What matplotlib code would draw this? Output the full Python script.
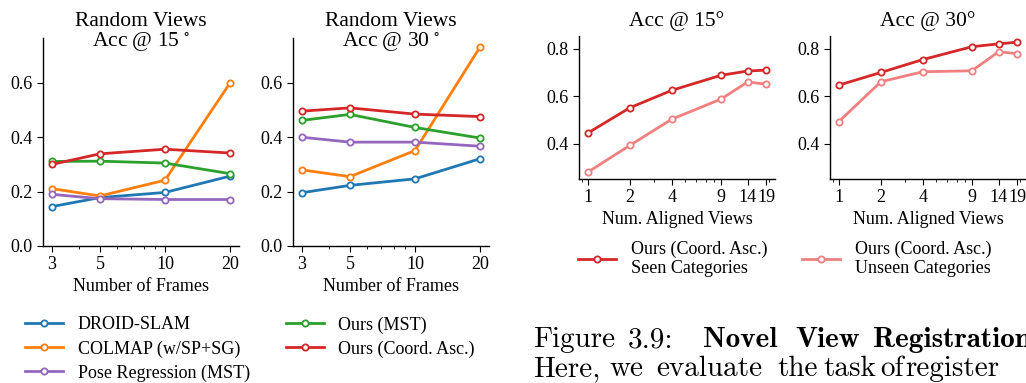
import matplotlib
matplotlib.use("Agg")
import matplotlib.pyplot as plt
from matplotlib.lines import Line2D
from matplotlib.ticker import FixedLocator, FixedFormatter, NullFormatter

plt.rcParams['font.family'] = ['Liberation Serif', 'DejaVu Serif']
plt.rcParams['mathtext.fontset'] = 'stix'

# random views panels
frames = [3, 5, 10, 20]
methods = ['DROID-SLAM', 'COLMAP (w/SP+SG)', 'Pose Regression (MST)', 'Ours (MST)', 'Ours (Coord. Asc.)']
colors = ['#1f77b4', '#ff7f0e', '#9467bd', '#2ca02c', '#d62728']
acc15 = [
    [0.145, 0.178, 0.197, 0.257],
    [0.211, 0.184, 0.242, 0.600],
    [0.190, 0.174, 0.171, 0.171],
    [0.311, 0.312, 0.305, 0.266],
    [0.300, 0.339, 0.356, 0.342],
]
acc30 = [
    [0.196, 0.223, 0.247, 0.321],
    [0.280, 0.255, 0.351, 0.732],
    [0.400, 0.382, 0.382, 0.367],
    [0.462, 0.484, 0.436, 0.397],
    [0.496, 0.508, 0.485, 0.476],
]

# aligned views panels
views = [1, 2, 4, 9, 14, 19]
seen15 = [0.446, 0.552, 0.625, 0.688, 0.706, 0.710]
unseen15 = [0.282, 0.394, 0.504, 0.588, 0.660, 0.651]
seen30 = [0.647, 0.700, 0.754, 0.808, 0.820, 0.827]
unseen30 = [0.494, 0.661, 0.703, 0.707, 0.787, 0.779]
seen_color = '#d62728'
unseen_color = '#f08080'

# caption words (justified in the source, so placed word by word)
caption1 = [('Figure', 533, 'cmr10'), ('3.9:', 628, 'cmr10'), ('Novel', 703, 'cmb10'),
            ('View', 795, 'cmb10'), ('Registration', 873, 'cmb10')]
caption2 = [('Here,', 533), ('we', 610), ('evaluate', 656), ('the', 777), ('task', 823),
            ('of', 880), ('register', 905)]

W, H = 1026, 383
fig = plt.figure(figsize=(W / 100, H / 100), dpi=100)


def px_axes(left, right, top, bottom):
    return fig.add_axes([left / W, (H - bottom) / H, (right - left) / W, (bottom - top) / H])


def style(ax, ticks):
    ax.set_xscale('log')
    ax.xaxis.set_major_locator(FixedLocator(ticks))
    ax.xaxis.set_major_formatter(FixedFormatter([str(t) for t in ticks]))
    ax.xaxis.set_minor_formatter(NullFormatter())
    for s in ['top', 'right']:
        ax.spines[s].set_visible(False)
    for s in ['left', 'bottom']:
        ax.spines[s].set_linewidth(1.0)
    ax.tick_params(labelsize=13, length=4)
    ax.tick_params(which='minor', length=2.5)


mk = dict(marker='o', markersize=4.5, markerfacecolor='white', markeredgewidth=1.3, linewidth=2)

ax1 = px_axes(43, 239, 38, 246)
ax2 = px_axes(293, 489, 38, 246)
for ax, data, title in [(ax1, acc15, 'Random Views\nAcc @ 15$\\,^\\circ$'),
                        (ax2, acc30, 'Random Views\nAcc @ 30$\\,^\\circ$')]:
    for vals, c in zip(data, colors):
        ax.plot(frames, vals, color=c, **mk)
    style(ax, frames)
    ax.set_ylim(0, 0.765)
    ax.set_yticks([0.0, 0.2, 0.4, 0.6])
    # second title line dips a little below the top of the axes
    ax.set_title(title, fontsize=15.5, y=0.957, pad=0, linespacing=0.95)
    ax.set_xlabel('Number of Frames', fontsize=13, labelpad=3)

ax3 = px_axes(579, 775, 36, 179)
ax4 = px_axes(830, 1026, 36, 179)
for ax, s, u, title in [(ax3, seen15, unseen15, 'Acc @ 15°'),
                        (ax4, seen30, unseen30, 'Acc @ 30°')]:
    ax.plot(views, s, color=seen_color, **mk)
    ax.plot(views, u, color=unseen_color, **mk)
    style(ax, views)
    ax.set_ylim(0.253, 0.853)
    ax.set_yticks([0.4, 0.6, 0.8])
    ax.set_title(title, fontsize=15.5, y=1.07, pad=0)
    ax.set_xlabel('Num. Aligned Views', fontsize=13, labelpad=3)

leg_kw = dict(frameon=False, fontsize=13, handlelength=2.1, handletextpad=0.8, borderaxespad=0)
handles = [Line2D([], [], color=c, **mk) for c in colors]
fig.legend(handles, methods, ncol=2, loc='upper left', bbox_to_anchor=(18 / W, 1 - 309 / H),
           columnspacing=2.0, labelspacing=0.38, **leg_kw)

fig.legend([Line2D([], [], color=seen_color, **mk)], ['Ours (Coord. Asc.)\nSeen Categories'],
           loc='upper left', bbox_to_anchor=(571 / W, 1 - 233 / H), **leg_kw)
fig.legend([Line2D([], [], color=unseen_color, **mk)], ['Ours (Coord. Asc.)\nUnseen Categories'],
           loc='upper left', bbox_to_anchor=(795 / W, 1 - 233 / H), **leg_kw)

for word, x, fam in caption1:
    fig.text(x / W, 1 - 347 / H, word, family=fam, fontsize=21, va='baseline')
for word, x in caption2:
    fig.text(x / W, 1 - 376 / H, word, family='cmr10', fontsize=21, va='baseline')

fig.savefig('out.png', dpi=100)
